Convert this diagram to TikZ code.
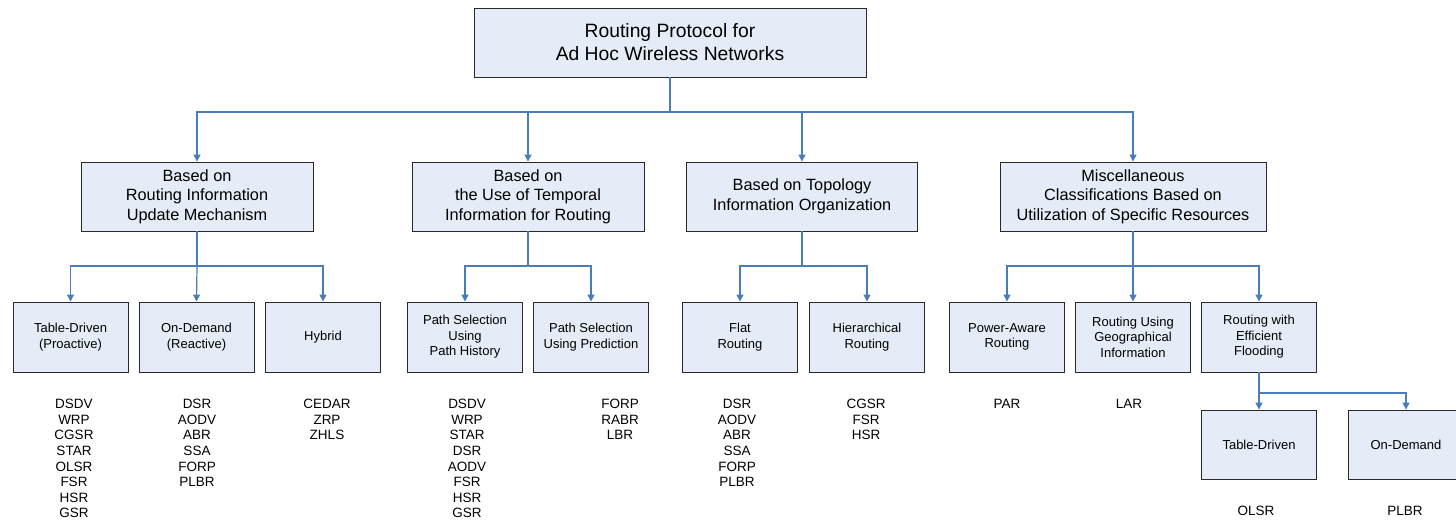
\documentclass[tikz,border=0pt]{standalone}
\usepackage{fontspec}
\setmainfont{Liberation Sans}
\usetikzlibrary{arrows.meta}
\definecolor{boxfill}{RGB}{230,236,247}
\definecolor{boxline}{RGB}{40,40,40}
\definecolor{linkblue}{RGB}{74,126,187}
\tikzset{
  box/.style={draw=boxline, line width=0.9pt, fill=boxfill, align=center, inner sep=2pt},
  rootbox/.style={box, minimum width=392pt, minimum height=69pt, font=\fontsize{19.3}{23}\selectfont},
  catbox/.style={box, minimum height=69pt, font=\fontsize{16.3}{19.5}\selectfont},
  leafbox/.style={box, minimum width=115pt, minimum height=70pt, font=\fontsize{13}{15.5}\selectfont},
  link/.style={draw=linkblue, line width=1.2pt},
  arr/.style={link, -{Triangle[width=7pt,length=7pt]}},
  plist/.style={anchor=north, align=center, inner sep=0pt, font=\fontsize{13.5}{15.6}\selectfont}
}
\begin{document}
\begin{tikzpicture}[x=1pt,y=-1pt]
\useasboundingbox (0,0) rectangle (1456,520);

% root and first level
\node[rootbox] (root) at (670,42.5) {Routing Protocol for\\Ad Hoc Wireless Networks};
\node[catbox, minimum width=232pt] (upd) at (197,196.5) {Based on\\Routing Information\\Update Mechanism};
\node[catbox, minimum width=232pt] (tmp) at (528,196.5) {Based on\\the Use of Temporal\\Information for Routing};
\node[catbox, minimum width=231pt] (top) at (802,196.5) {Based on Topology\\Information Organization};
\node[catbox, minimum width=266pt] (res) at (1133,196.5) {Miscellaneous\\Classifications Based on\\Utilization of Specific Resources};

% second level
\node[leafbox] (tab) at (70.5,337) {Table-Driven\\(Proactive)};
\node[leafbox] (ond) at (196.5,337) {On-Demand\\(Reactive)};
\node[leafbox] (hyb) at (323,337) {Hybrid};
\node[leafbox] (phi) at (465,337) {Path Selection\\Using\\Path History};
\node[leafbox] (ppr) at (591,337) {Path Selection\\Using Prediction};
\node[leafbox] (flt) at (740,337) {Flat\\Routing};
\node[leafbox] (hie) at (867,337) {Hierarchical\\Routing};
\node[leafbox] (pow) at (1007,337) {Power-Aware\\Routing};
\node[leafbox] (geo) at (1133,337) {Routing Using\\Geographical\\Information};
\node[leafbox] (fld) at (1259,337) {Routing with\\Efficient\\Flooding};

% third level
\node[leafbox, minimum height=69pt] (ftd) at (1259,444.5) {Table-Driven};
\node[leafbox, minimum height=69pt] (fod) at (1406,444.5) {On-Demand};

% junction points
\coordinate (j0) at (670,112);
\coordinate (j1) at (197,266);
\coordinate (j2) at (528,266);
\coordinate (j3) at (802,266);
\coordinate (j4) at (1133,266);
\coordinate (j5) at (1259,393);

% connectors
\draw[link] (root.south) -- (j0);
\draw[arr] (j0) -| (upd.north);
\draw[arr] (j0) -| (tmp.north);
\draw[arr] (j0) -| (top.north);
\draw[arr] (j0) -| (res.north);

\draw[link] (upd.south) -- (j1);
\draw[arr] (j1) -| (tab.north);
\draw[arr] (j1) -- (ond.north);
\draw[arr] (j1) -| (hyb.north);

\draw[link] (tmp.south) -- (j2);
\draw[arr] (j2) -| (phi.north);
\draw[arr] (j2) -| (ppr.north);

\draw[link] (top.south) -- (j3);
\draw[arr] (j3) -| (flt.north);
\draw[arr] (j3) -| (hie.north);

\draw[link] (res.south) -- (j4);
\draw[arr] (j4) -| (pow.north);
\draw[arr] (j4) -- (geo.north);
\draw[arr] (j4) -| (fld.north);

\draw[link] (fld.south) -- (j5);
\draw[arr] (j5) -- (ftd.north);
\draw[arr] (j5) -| (fod.north);

% protocol lists
\node[plist] (l1) at (74,399) {DSDV\\WRP\\CGSR\\STAR\\OLSR\\FSR\\HSR\\GSR};
\node[plist] (l2) at (197,399) {DSR\\AODV\\ABR\\SSA\\FORP\\PLBR};
\node[plist] (l3) at (327,399) {CEDAR\\ZRP\\ZHLS};
\node[plist] (l4) at (467,399) {DSDV\\WRP\\STAR\\DSR\\AODV\\FSR\\HSR\\GSR};
\node[plist] (l5) at (620,399) {FORP\\RABR\\LBR};
\node[plist] (l6) at (737,399) {DSR\\AODV\\ABR\\SSA\\FORP\\PLBR};
\node[plist] (l7) at (866,399) {CGSR\\FSR\\HSR};
\node[plist] (l8) at (1007,399) {PAR};
\node[plist] (l9) at (1129,399) {LAR};
\node[plist] (l10) at (1256,506) {OLSR};
\node[plist] (l11) at (1405,506) {PLBR};
\end{tikzpicture}
\end{document}
